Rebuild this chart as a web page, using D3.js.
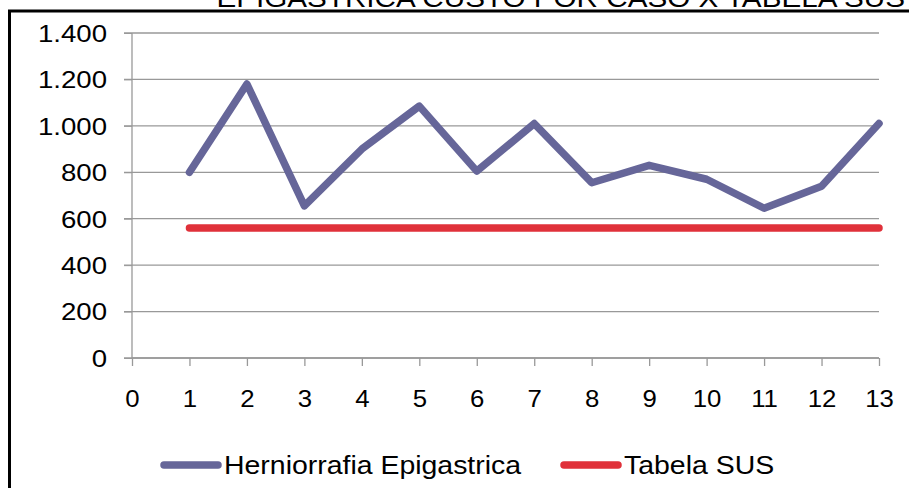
<!DOCTYPE html>
<html>
<head>
<meta charset="utf-8">
<script src="https://cdn.jsdelivr.net/npm/d3@7"></script>
<style>
  body { margin: 0; background: #fff; }
  svg { display: block; font-family: "Liberation Sans", Arial, sans-serif; }
</style>
</head>
<body>
<svg id="chart" width="909" height="488"></svg>
<script>
const titleText = "EPIGASTRICA CUSTO POR CASO X TABELA SUS";
const cases = [1, 2, 3, 4, 5, 6, 7, 8, 9, 10, 11, 12, 13];
const herniorrafia = [800, 1180, 655, 900, 1085, 805, 1010, 755, 830, 770, 645, 740, 1010];
const tabelaSus = [560, 560, 560, 560, 560, 560, 560, 560, 560, 560, 560, 560, 560];
const yTicks = [0, 200, 400, 600, 800, 1000, 1200, 1400];
const xTicks = [0, 1, 2, 3, 4, 5, 6, 7, 8, 9, 10, 11, 12, 13];
const seriesNames = ["Herniorrafia Epigastrica", "Tabela SUS"];
const seriesColors = ["#666699", "#e0313a"];

const svg = d3.select("#chart");
const margin = { top: 33, left: 132, right: 30, bottom: 130 };
const width = 909 - margin.left - margin.right;
const height = 488 - margin.top - margin.bottom;

const ptLocale = d3.formatLocale({ decimal: ",", thousands: ".", grouping: [3], currency: ["R$", ""] });
const fmt = ptLocale.format(",d");

const x = d3.scaleLinear().domain([0, 13]).range([0, width]);
const y = d3.scaleLinear().domain([0, 1400]).range([height, 0]);

// the original picture is a bit wider than tall, so text is stretched sideways
function stretch(sel, k) {
  sel.each(function () {
    const w = this.getComputedTextLength();
    d3.select(this).attr("textLength", w * k).attr("lengthAdjust", "spacingAndGlyphs");
  });
}

// frame + cut-off title
svg.append("text")
  .attr("x", 905).attr("y", 7)
  .attr("text-anchor", "end")
  .attr("font-size", 26)
  .attr("fill", "#000")
  .text(titleText)
  .call(stretch, 1.14);
svg.append("line").attr("x1", 8).attr("x2", 909).attr("y1", 11).attr("y2", 11)
  .attr("stroke", "#000").attr("stroke-width", 3);
svg.append("line").attr("x1", 9.5).attr("x2", 9.5).attr("y1", 10).attr("y2", 488)
  .attr("stroke", "#000").attr("stroke-width", 3);

const g = svg.append("g").attr("transform", `translate(${margin.left},${margin.top})`);

// gridlines
g.append("g")
  .selectAll("line")
  .data(yTicks)
  .join("line")
  .attr("x1", -8).attr("x2", width)
  .attr("y1", d => y(d)).attr("y2", d => y(d))
  .attr("stroke", "#999").attr("stroke-width", 1.3);

// y axis
const yAxis = g.append("g")
  .call(d3.axisLeft(y).tickValues(yTicks).tickFormat(fmt).tickSize(8).tickPadding(17));
yAxis.select(".domain").attr("stroke", "#999").attr("stroke-width", 1.3).attr("d", `M0,0V${height}`);
yAxis.selectAll(".tick line").attr("stroke", "#999");
yAxis.selectAll("text").attr("font-size", 24).attr("fill", "#000").attr("dy", "0.35em")
  .call(stretch, 1.15);

// x axis
const xAxis = g.append("g")
  .attr("transform", `translate(0,${height})`)
  .call(d3.axisBottom(x).tickValues(xTicks).tickFormat(d3.format("d")).tickSize(8).tickPadding(25));
xAxis.select(".domain").attr("stroke", "#999").attr("stroke-width", 1.3).attr("d", `M0,0H${width}`);
xAxis.selectAll(".tick line").attr("stroke", "#999").attr("stroke-width", 1.3);
xAxis.selectAll("text").attr("font-size", 23).attr("fill", "#000")
  .call(stretch, 1.12);

// lines
const line = d3.line().x((d, i) => x(cases[i])).y(d => y(d));
[herniorrafia, tabelaSus].forEach((s, k) => {
  g.append("path")
    .datum(s)
    .attr("d", line)
    .attr("fill", "none")
    .attr("stroke", seriesColors[k])
    .attr("stroke-width", 7.5)
    .attr("stroke-linejoin", "round")
    .attr("stroke-linecap", "round");
});

// legend
const legendX = [164, 564];
const legend = svg.append("g").attr("transform", "translate(0,465)");
seriesNames.forEach((name, k) => {
  legend.append("line")
    .attr("x1", legendX[k]).attr("x2", legendX[k] + 54)
    .attr("y1", 0).attr("y2", 0)
    .attr("stroke", seriesColors[k]).attr("stroke-width", 7.5)
    .attr("stroke-linecap", "round");
  legend.append("text")
    .attr("x", legendX[k] + 60).attr("y", 0).attr("dy", "0.35em")
    .attr("font-size", 25.5).attr("fill", "#000")
    .text(name)
    .call(stretch, 1.115);
});
</script>
</body>
</html>
